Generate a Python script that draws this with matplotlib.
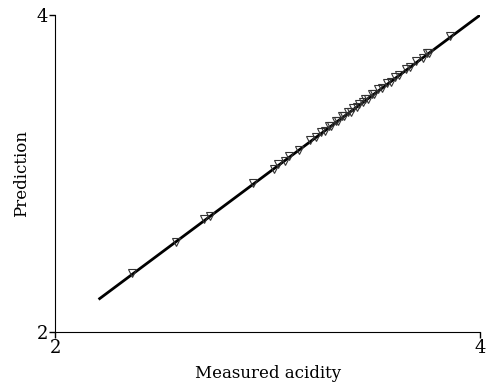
import numpy as np
import matplotlib
matplotlib.use('Agg')
import matplotlib.pyplot as plt

plt.rcParams['font.family'] = 'DejaVu Serif'

# measured vs predicted acidity
measured = [2.36, 2.57, 2.70, 2.73, 2.93, 3.03, 3.05, 3.08, 3.10, 3.15, 3.20, 3.23,
            3.25, 3.27, 3.29, 3.30, 3.32, 3.33, 3.35, 3.36, 3.38, 3.39, 3.40, 3.42,
            3.43, 3.45, 3.46, 3.47, 3.49, 3.50, 3.52, 3.54, 3.56, 3.58, 3.60, 3.62,
            3.65, 3.67, 3.70, 3.73, 3.75, 3.76, 3.86]
predicted = [2.37, 2.57, 2.71, 2.73, 2.94, 3.03, 3.06, 3.08, 3.11, 3.15, 3.21, 3.23,
             3.26, 3.27, 3.30, 3.30, 3.33, 3.33, 3.36, 3.36, 3.39, 3.39, 3.41, 3.42,
             3.44, 3.45, 3.47, 3.47, 3.50, 3.50, 3.53, 3.54, 3.57, 3.58, 3.61, 3.62,
             3.66, 3.67, 3.71, 3.73, 3.76, 3.76, 3.87]
fit_x = [2.21, 4.0]
fit_y = [2.21, 4.0]

fig = plt.figure(figsize=(4.87, 3.85), dpi=100)
ax = fig.add_axes([0.113, 0.138, 0.873, 0.823])

ax.plot(fit_x, fit_y, color='black', lw=2, zorder=2)
ax.plot(measured, predicted, 'v', ms=5.5, mfc='none', mec='#333333', mew=0.8, zorder=3)

ax.set_xlim(2, 4)
ax.set_ylim(2, 4)
ax.set_xticks([2, 4])
ax.set_yticks([2, 4])
ax.spines['top'].set_visible(False)
ax.spines['right'].set_visible(False)
ax.tick_params(labelsize=13, length=4, width=1, pad=1)
ax.set_xlabel('Measured acidity', fontsize=12, labelpad=6)
ax.set_ylabel('Prediction', fontsize=12, labelpad=5)

plt.savefig('out.png', dpi=100)
